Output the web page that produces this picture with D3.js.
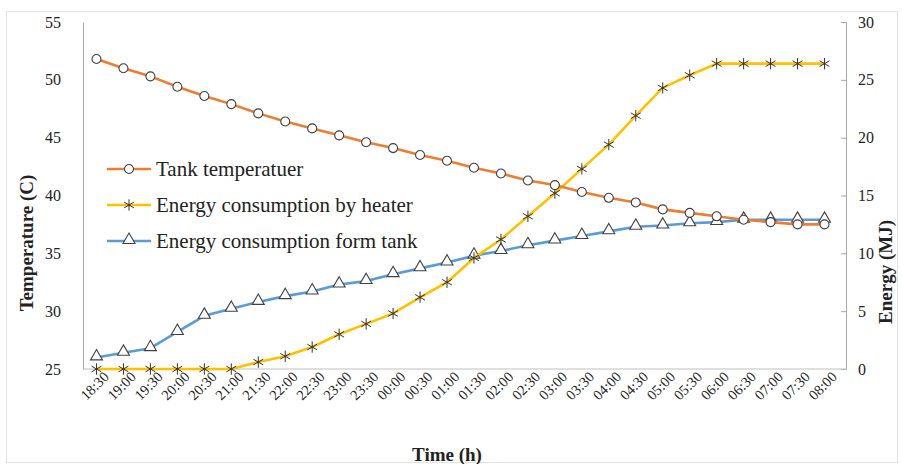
<!DOCTYPE html>
<html>
<head>
<meta charset="utf-8">
<script src="https://cdn.jsdelivr.net/npm/d3@7"></script>
<style>
  body { margin: 0; background: #fff; }
  text { font-family: "Liberation Serif", "Times New Roman", serif; fill: #222; }
</style>
</head>
<body>
<div id="chart"></div>
<script>
// time stamps along the x axis
const times = ["18:30","19:00","19:30","20:00","20:30","21:00","21:30","22:00","22:30","23:00","23:30",
  "00:00","00:30","01:00","01:30","02:00","02:30","03:00","03:30","04:00","04:30","05:00","05:30",
  "06:00","06:30","07:00","07:30","08:00"];

// Tank temperature (C), left axis
const tankTemp = [51.8,51.0,50.3,49.4,48.6,47.9,47.1,46.4,45.8,45.2,44.6,44.1,43.5,43.0,42.4,41.9,
  41.3,40.9,40.3,39.8,39.4,38.8,38.5,38.2,37.9,37.7,37.5,37.5];

// Energy consumption by heater (MJ), right axis
const heaterEnergy = [0,0,0,0,0,0,0.6,1.1,1.9,3.0,3.9,4.8,6.2,7.5,9.6,11.2,13.2,15.2,17.3,19.4,
  21.9,24.3,25.4,26.4,26.4,26.4,26.4,26.4];

// Energy consumption from tank (MJ), right axis
const tankEnergy = [1.0,1.4,1.8,3.2,4.6,5.2,5.8,6.3,6.7,7.3,7.6,8.2,8.7,9.2,9.8,10.2,10.7,11.1,
  11.5,11.9,12.3,12.4,12.6,12.7,12.9,12.9,12.9,12.9];

const leftTicks = [25,30,35,40,45,50,55];
const rightTicks = [0,5,10,15,20,25,30];

const width = 903, height = 464;
const plot = { left: 83, right: 846, top: 22, bottom: 369 };

const svg = d3.select("#chart").append("svg")
  .attr("width", width)
  .attr("height", height);

// outer frame
svg.append("rect")
  .attr("x", 6.5).attr("y", 11.5)
  .attr("width", 891).attr("height", 451)
  .attr("fill", "none").attr("stroke", "#e2e2e2");

const x = d3.scalePoint()
  .domain(times)
  .range([plot.left, 838])
  .padding(0.5);

const yT = d3.scaleLinear().domain([25, 55]).range([plot.bottom, plot.top]);
const yE = d3.scaleLinear().domain([0, 30]).range([plot.bottom, plot.top]);

// left axis
const gL = svg.append("g").attr("transform", `translate(${plot.left},0)`)
  .call(d3.axisLeft(yT).tickValues(leftTicks).tickSize(0).tickPadding(22));
gL.select(".domain").attr("stroke", "#a6a6a6");
gL.selectAll("text").style("font-size", "16px");

// right axis
const gR = svg.append("g").attr("transform", `translate(${plot.right},0)`)
  .call(d3.axisRight(yE).tickValues(rightTicks).tickSizeInner(-5).tickSizeOuter(-5).tickPadding(12));
gR.select(".domain").attr("stroke", "#a6a6a6");
gR.selectAll(".tick line").attr("stroke", "#a6a6a6");
gR.selectAll("text").style("font-size", "16px");

// bottom axis
const gB = svg.append("g").attr("transform", `translate(0,${plot.bottom})`)
  .call(d3.axisBottom(x).tickSize(0).tickPadding(8));
gB.select(".domain").attr("stroke", "#bfbfbf").attr("d", `M${plot.left},0H${plot.right}`);
gB.selectAll("text")
  .style("font-size", "14.5px")
  .attr("text-anchor", "end")
  .attr("dx", "0.2em")
  .attr("dy", "0.5em")
  .attr("transform", "rotate(-45)");

// axis titles
svg.append("text")
  .attr("transform", "translate(33,243) rotate(-90)")
  .attr("text-anchor", "middle")
  .style("font-size", "19px").style("font-weight", "bold")
  .text("Temperature (C)");

svg.append("text")
  .attr("transform", "translate(892,272) rotate(-90)")
  .attr("text-anchor", "middle")
  .style("font-size", "19px").style("font-weight", "bold")
  .text("Energy (MJ)");

svg.append("text")
  .attr("x", 447).attr("y", 461)
  .attr("text-anchor", "middle")
  .style("font-size", "19px").style("font-weight", "bold")
  .text("Time (h)");

const series = [
  { name: "Tank temperatuer", values: tankTemp, y: yT, color: "#ed7d31", marker: "circle" },
  { name: "Energy consumption by heater", values: heaterEnergy, y: yE, color: "#ffc000", marker: "star" },
  { name: "Energy consumption form tank", values: tankEnergy, y: yE, color: "#5b9bd5", marker: "triangle" }
];

function drawMarker(g, type) {
  if (type === "circle") {
    g.append("circle").attr("r", 4.5)
      .attr("fill", "#fff").attr("stroke", "#404040").attr("stroke-width", 1.1);
  } else if (type === "triangle") {
    g.append("path").attr("d", d3.symbol(d3.symbolTriangle, 62)())
      .attr("transform", "translate(0,-1)")
      .attr("fill", "#fff").attr("stroke", "#404040").attr("stroke-width", 1.1);
  } else {
    g.append("path").attr("d", d3.symbol(d3.symbolAsterisk, 90)())
      .attr("fill", "none").attr("stroke", "#333").attr("stroke-width", 1);
  }
}

// draw order: blue, yellow, orange on top
[series[2], series[1], series[0]].forEach(s => {
  const line = d3.line()
    .x((d, i) => x(times[i]))
    .y(d => s.y(d));
  svg.append("path")
    .datum(s.values)
    .attr("fill", "none")
    .attr("stroke", s.color)
    .attr("stroke-width", 2.6)
    .attr("stroke-linejoin", "round")
    .attr("d", line);

  svg.append("g").selectAll("g")
    .data(s.values)
    .join("g")
    .attr("transform", (d, i) => `translate(${x(times[i])},${s.y(d)})`)
    .each(function () { drawMarker(d3.select(this), s.marker); });
});

// legend
const legend = svg.append("g").attr("transform", "translate(107,169)");
series.forEach((s, i) => {
  const row = legend.append("g").attr("transform", `translate(0,${i * 36})`);
  row.append("line")
    .attr("x1", 0).attr("x2", 44)
    .attr("stroke", s.color).attr("stroke-width", 2.6);
  drawMarker(row.append("g").attr("transform", "translate(22,0)"), s.marker);
  row.append("text")
    .attr("x", 49).attr("y", 0).attr("dy", "0.35em")
    .style("font-size", "21px")
    .text(s.name);
});
</script>
</body>
</html>
